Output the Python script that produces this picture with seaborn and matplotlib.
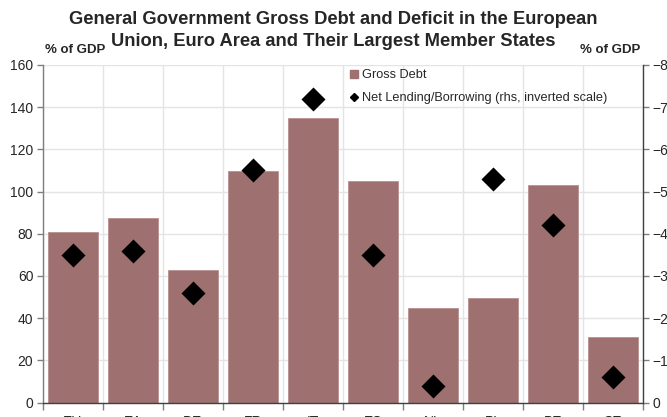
import matplotlib
matplotlib.use("Agg")
import matplotlib.pyplot as plt
from matplotlib.lines import Line2D
from matplotlib.ticker import MultipleLocator, FixedLocator
import seaborn as sns
import pandas as pd
import numpy as np

countries = ["EU", "EA", "DE", "FR", "IT", "ES", "NL", "PL", "BE", "SE"]
gross_debt = [80.7, 87.4, 62.8, 109.7, 134.7, 104.8, 44.6, 49.5, 102.9, 30.9]
net_lending = [-3.5, -3.6, -2.6, -5.5, -7.2, -3.5, -0.4, -5.3, -4.2, -0.6]

title_lines = ["General Government Gross Debt and Deficit in the European",
               "Union, Euro Area and Their Largest Member States"]
unit_label = "% of GDP"
legend_labels = ["Gross Debt", "Net Lending/Borrowing (rhs, inverted scale)"]

df = pd.DataFrame({"country": countries, "debt": gross_debt, "nlb": net_lending})

sns.set_style("white")
plt.rcParams["font.family"] = ["Liberation Sans", "DejaVu Sans"]

bar_color = "#9E7070"
grid_color = "#E4E4E4"
spine_color = "#7F7F7F"

fig = plt.figure(figsize=(6.67, 4.17), dpi=100)
W, H = 667, 417
ax = fig.add_axes([43 / W, 1 - 402.5 / H, 600 / W, 337.5 / H])

sns.barplot(data=df, x="country", y="debt", color=bar_color, saturation=1,
            width=0.82, edgecolor="#B99090", linewidth=0.6, ax=ax, zorder=2)
ax.set_xlim(-0.5, len(countries) - 0.5)
ax.set_ylim(0, 160)
ax.yaxis.set_major_locator(MultipleLocator(20))
ax.set_xlabel("")
ax.set_ylabel("")

# boundaries between categories for ticks and vertical grid
ax.xaxis.set_minor_locator(FixedLocator(np.arange(-0.5, len(countries), 1.0)))
ax.tick_params(axis="x", which="major", length=0, pad=9, labelsize=10)
ax.tick_params(axis="x", which="minor", length=5, width=1, color=spine_color, direction="out", bottom=True)
ax.tick_params(axis="y", which="major", length=4, width=1, color=spine_color, direction="out", left=True, labelsize=10, pad=3)
ax.grid(False)
ax.xaxis.grid(True, which="minor", color=grid_color, lw=1, zorder=0)
ax.yaxis.grid(True, which="major", color=grid_color, lw=1, zorder=0)
ax.set_axisbelow(True)
for s in ["top", "right"]:
    ax.spines[s].set_visible(False)
ax.spines["left"].set_color(spine_color)
ax.spines["bottom"].set_color("#404040")
ax.spines["left"].set_linewidth(1)
ax.spines["bottom"].set_linewidth(1)

ax2 = ax.twinx()
sns.scatterplot(data=df, x="country", y="nlb", marker="D", color="black",
                s=150, edgecolor="black", linewidth=0, ax=ax2, zorder=5, legend=False)
ax2.set_ylim(0, -8)
ax2.yaxis.set_major_locator(MultipleLocator(1))
ax2.set_xlim(-0.5, len(countries) - 0.5)
ax2.set_ylabel("")
ax2.set_xlabel("")
ax2.grid(False)
ax2.tick_params(axis="y", which="major", length=4, width=1, color=spine_color, direction="out", right=True, labelsize=10, pad=3)
for s in ["top", "left", "bottom"]:
    ax2.spines[s].set_visible(False)
ax2.spines["right"].set_visible(True)
ax2.spines["right"].set_color("#404040")
ax2.spines["right"].set_linewidth(1)

handles = [
    Line2D([], [], marker="s", color=bar_color, ls="none", markersize=6),
    Line2D([], [], marker="D", color="black", ls="none", markersize=4),
]
ax2.legend(handles, legend_labels, loc="upper left", bbox_to_anchor=(0.505, 1.0),
           frameon=False, fontsize=9.2, handlelength=0.6, handletextpad=0.3,
           labelspacing=0.85, borderaxespad=0.0, borderpad=0.35)

fig.text(0.5, 1 - 20 / H, title_lines[0], ha="center", va="center", fontsize=13.2, fontweight="bold")
fig.text(0.5, 1 - 42 / H, title_lines[1], ha="center", va="center", fontsize=13.2, fontweight="bold")
fig.text(45 / W, 1 - 50 / H, unit_label, ha="left", va="center", fontsize=9.5, fontweight="bold")
fig.text(640 / W, 1 - 50 / H, unit_label, ha="right", va="center", fontsize=9.5, fontweight="bold")

fig.savefig("out.png", dpi=100)
